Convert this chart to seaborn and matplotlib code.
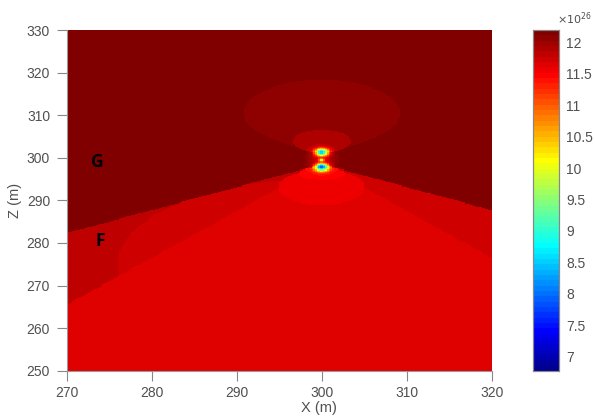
import numpy as np
import matplotlib
matplotlib.use("Agg")
import matplotlib.pyplot as plt
from matplotlib.colors import ListedColormap
import seaborn as sns

# ---------------- data (values in units of 10^26) ----------------
x_limits = [270, 320]
z_limits = [250, 330]
x_ticks = [270, 280, 290, 300, 310, 320]
z_ticks = [250, 260, 270, 280, 290, 300, 310, 320, 330]
cbar_ticks = [7, 7.5, 8, 8.5, 9, 9.5, 10, 10.5, 11, 11.5, 12]
value_range = [6.773, 12.196]

# layered background
layer_names = ["G", "F", "F right", "lower"]
layer_values = [12.17, 11.82, 11.735, 11.65]
apex = [300.0, 298.5]          # where the layer boundaries meet
g_slope = 0.54                 # slope of G boundary
f_slope = 1.1                  # slope of F wedge boundary

# banded halos around the source (value inside, zone where it applies)
halo_cx = [300.0, 300.0, 300.0, 300.0, 300.0, 300.0]
halo_cz = [310.5, 307.0, 303.8, 275.0, 293.0, 296.3]
halo_rx = [9.2, 6.5, 3.4, 24.0, 5.1, 2.75]
halo_rz = [7.8, 5.0, 2.7, 20.0, 4.1, 1.5]
halo_value = [12.07, 12.07, 11.90, 11.735, 11.56, 11.48]
halo_zone = ["G", "G", "G", "F", "below", "below"]

# source core anomalies
core_x = [300.0, 300.0, 300.0, 300.0]
core_z = [299.6, 301.3, 299.5, 297.8]
core_sx = [1.0, 0.55, 0.22, 0.55]
core_sz = [1.6, 0.6, 0.25, 0.6]
core_amp = [-0.45, -3.2, -2.0, -3.6]

region_labels = ["G", "F"]
region_label_x = [273.6, 274.0]
region_label_z = [299.0, 280.5]

# ---------------- build field ----------------
dx, dz = 0.2, 0.25
xc = np.arange(x_limits[0] + dx / 2, x_limits[1], dx)
zc = np.arange(z_limits[1] - dz / 2, z_limits[0], -dz)   # top row first
X, Z = np.meshgrid(xc, zc)

ax_off = np.abs(X - apex[0])
in_g = Z > apex[1] - g_slope * ax_off
in_wedge = (~in_g) & (Z > apex[1] - f_slope * ax_off)
in_f_left = in_wedge & (X < apex[0])
in_f_right = in_wedge & (X >= apex[0])
in_lower = ~(in_g | in_wedge)

field = np.zeros_like(X)
field[in_g] = layer_values[0]
field[in_f_left] = layer_values[1]
field[in_f_right] = layer_values[2]
field[in_lower] = layer_values[3]

zones = {"G": in_g, "F": in_f_left, "below": ~in_g}
for cx, cz, rx, rz, val, zone in zip(halo_cx, halo_cz, halo_rx, halo_rz,
                                     halo_value, halo_zone):
    inside = (((X - cx) / rx) ** 2 + ((Z - cz) / rz) ** 2 <= 1) & zones[zone]
    field[inside] = np.minimum(field[inside], val)

for cx, cz, sx, sz, amp in zip(core_x, core_z, core_sx, core_sz, core_amp):
    field += amp * np.exp(-0.5 * (((X - cx) / sx) ** 2 + ((Z - cz) / sz) ** 2))


# MATLAB-style jet(64)
def matlab_jet(m=64):
    n = int(np.ceil(m / 4))
    u = np.concatenate([np.arange(1, n + 1) / n, np.ones(n - 1), np.arange(n, 0, -1) / n])
    g = int(np.ceil(n / 2)) - (1 if m % 4 == 1 else 0) + np.arange(1, len(u) + 1)
    r = g + n
    b = g - n
    J = np.zeros((m, 3))
    for col, idx in ((1, g), (0, r), (2, b)):
        keep = (idx >= 1) & (idx <= m)
        J[idx[keep] - 1, col] = u[keep]
    return J


cmap = ListedColormap(matlab_jet(64))

# ---------------- plot ----------------
sns.set_theme(style="white")
plt.rcParams["font.family"] = ["Liberation Sans", "DejaVu Sans"]
gray = "#505050"

fig = plt.figure(figsize=(5.95, 4.16), dpi=100)
ax = fig.add_axes([66.7 / 595, 45.3 / 416, 425 / 595, 340.7 / 416])
cax = fig.add_axes([532.5 / 595, 45.0 / 416, 26.8 / 595, 341.0 / 416])

sns.heatmap(field, ax=ax, cbar_ax=cax, cmap=cmap,
            vmin=value_range[0], vmax=value_range[1],
            xticklabels=False, yticklabels=False, rasterized=True)

ax.set_xticks([(v - x_limits[0]) / dx for v in x_ticks])
ax.set_xticklabels([str(v) for v in x_ticks], fontsize=10, color=gray)
ax.set_yticks([(z_limits[1] - v) / dz for v in z_ticks])
ax.set_yticklabels([str(v) for v in z_ticks], fontsize=10, color=gray, rotation=0)
ax.tick_params(axis="both", direction="out", length=7, width=0.8, color="#888888",
               bottom=True, left=True)
ax.tick_params(axis="x", pad=4)
ax.tick_params(axis="y", pad=5)
for side in ["left", "bottom"]:
    ax.spines[side].set_visible(True)
    ax.spines[side].set_color("#999999")
    ax.spines[side].set_linewidth(0.8)

ax.set_xlabel("")
ax.set_ylabel("")
fig.text(319 / 595, 1 - 408 / 416, "X (m)", ha="center", va="center",
         fontsize=10.5, color=gray)
fig.text(15 / 595, 1 - 200 / 416, "Z (m)", ha="center", va="center",
         fontsize=10.5, color=gray, rotation=90)

for lab, lx, lz in zip(region_labels, region_label_x, region_label_z):
    ax.text((lx - x_limits[0]) / dx, (z_limits[1] - lz) / dz, lab,
            ha="center", va="center", fontsize=12.5, fontweight="bold",
            color="black", family=["Open Sans", "DejaVu Sans"])

cax.set_yticks(cbar_ticks)
cax.set_yticklabels([f"{v:g}" for v in cbar_ticks], fontsize=10, color=gray)
cax.tick_params(axis="y", direction="in", length=3, width=0.8, color="#333333",
                right=True, left=False, pad=5)
for s in cax.spines.values():
    s.set_visible(True)
    s.set_color("#888888")
    s.set_linewidth(0.8)
fig.text(557 / 595, 1 - 19 / 416, r"$\times10^{26}$", ha="left", va="center",
         fontsize=8, color=gray)

fig.savefig("out.png", dpi=100)
